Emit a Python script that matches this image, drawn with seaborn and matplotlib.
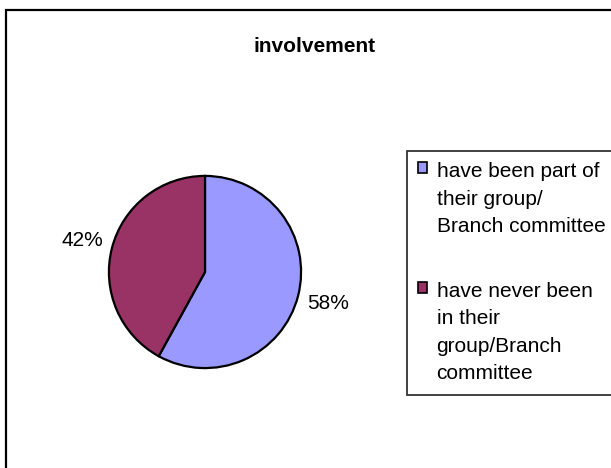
#!/usr/bin/env python3
"""Pie chart of committee involvement."""

import matplotlib.pyplot as plt
import seaborn as sns
from matplotlib.patches import Rectangle

TITLE = "involvement"
LABELS = ["have been part of\ntheir group/\nBranch committee",
          "have never been\nin their\ngroup/Branch\ncommittee"]
SHARES = [58, 42]
COLORS = ["#9999FF", "#993366"]

sns.set_style("white")
plt.rcParams["font.family"] = ["Liberation Sans", "DejaVu Sans"]
plt.rcParams["text.color"] = "black"


def main():
    fig = plt.figure(figsize=(6.11, 4.68), dpi=100)
    palette = sns.color_palette(COLORS)

    # Pie axes, centred at about (205, 272) px with radius 98 px
    ax = fig.add_axes([107 / 611, (468 - 370) / 468, 196 / 611, 196 / 468])
    wedges, _, autotexts = ax.pie(
        SHARES, colors=palette, startangle=90, counterclock=False,
        autopct="%1.0f%%", pctdistance=1.32, labels=None,
        wedgeprops=dict(edgecolor="black", linewidth=1.6),
        textprops=dict(fontsize=15, color="black"))
    ax.set_xlim(-1.02, 1.02)
    ax.set_ylim(-1.02, 1.02)
    ax.set_aspect("equal")
    ax.axis("off")

    fig.text(315 / 611, 1 - 47 / 468, TITLE, ha="center", va="center",
             fontsize=15, fontweight="bold", color="black")

    # Legend
    leg = fig.legend(wedges, LABELS, loc="upper left",
                     bbox_to_anchor=(407 / 611, 1 - 151 / 468),
                     fontsize=15, frameon=True, fancybox=False,
                     edgecolor="black", borderpad=0.55, handlelength=0.42,
                     handleheight=0.42, handletextpad=0.45, labelspacing=2.2,
                     borderaxespad=0)
    leg.get_frame().set_linewidth(1.3)
    for t in leg.get_texts():
        t.set_linespacing(1.56)
        t.set_color("black")
    for col in leg._legend_handle_box.get_children():
        for item in col.get_children():
            item.align = "top"
    for h in leg.legend_handles:
        h.set_edgecolor("black")
        h.set_linewidth(1.2)

    # Outer chart border (runs off the right and bottom edges)
    fig.patches.append(Rectangle((6 / 611, -0.2), 1.2, 1.2 - 10 / 468,
                                 transform=fig.transFigure, fill=False,
                                 edgecolor="black", linewidth=1.6))

    plt.savefig("out.png", dpi=100)


if __name__ == '__main__':
    main()
